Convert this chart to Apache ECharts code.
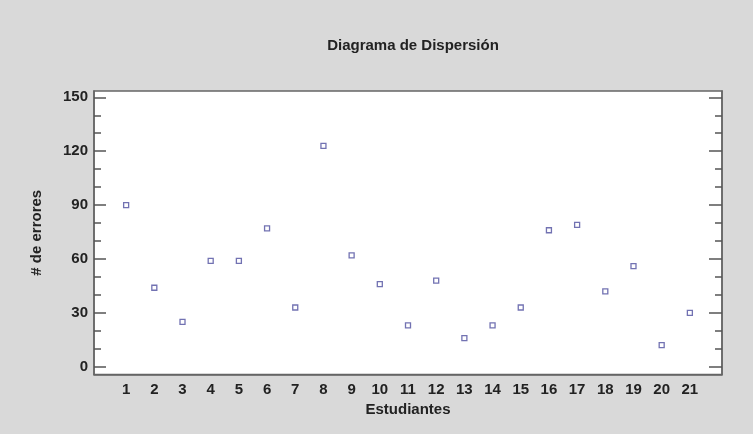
<!DOCTYPE html>
<html>
<head>
<meta charset="utf-8">
<script src="https://cdn.jsdelivr.net/npm/echarts@6/dist/echarts.min.js"></script>
<style>
html,body{margin:0;padding:0;background:#d9d9d9;}
#chart{width:753px;height:434px;}
</style>
</head>
<body>
<div id="chart"></div>
<script>
var titleText = 'Diagrama de Dispersión';
var xName = 'Estudiantes';
var yName = '# de errores';
var estudiantes = [1,2,3,4,5,6,7,8,9,10,11,12,13,14,15,16,17,18,19,20,21];
var errores = [90,44,25,59,59,77,33,123,62,46,23,48,16,23,33,76,79,42,56,12,30];
var yMajorTicks = [0,30,60,90,120,150];
var yMinorTicks = [10,20,40,50,70,80,100,110,130,140];

var data = estudiantes.map(function(e, i){ return [e, errores[i]]; });
var font = 'Liberation Sans, Arial, sans-serif';
var YMIN = -4.3, YMAX = 153.5;

function yAx(pos, labels, ticks, len, showLine){
  return {
    type: 'value', position: pos, min: YMIN, max: YMAX,
    axisLine: {show: showLine, onZero: false, lineStyle: {color: '#666', width: 1.5}},
    axisTick: {show: true, inside: true, length: len, customValues: ticks,
               lineStyle: {color: '#555', width: 1.5}},
    axisLabel: labels ? {show: true, customValues: labels, margin: 6,
               color: '#222', fontWeight: 'bold', fontSize: 15, fontFamily: font}
               : {show: false},
    splitLine: {show: false}
  };
}

var yAxes = [
  yAx('left', yMajorTicks, yMajorTicks, 12, true),
  yAx('left', null, yMinorTicks, 7, false),
  yAx('right', null, yMajorTicks, 13, true),
  yAx('right', null, yMinorTicks, 7, false)
];
yAxes[0].name = yName;
yAxes[0].nameLocation = 'middle';
yAxes[0].nameGap = 50;
yAxes[0].nameTextStyle = {color: '#222', fontWeight: 'bold', fontSize: 15, fontFamily: font};

var chart = echarts.init(document.getElementById('chart'));
chart.setOption({
  backgroundColor: '#d9d9d9',
  animation: false,
  title: {
    text: titleText, left: 408, top: 33, textAlign: 'center',
    textStyle: {color: '#222', fontWeight: 'bold', fontSize: 15, fontFamily: font}
  },
  grid: {
    left: 94, right: 31, top: 91, bottom: 59.5,
    show: true, backgroundColor: '#ffffff', borderColor: '#666', borderWidth: 1.5
  },
  xAxis: {
    type: 'value', min: -0.14, max: 22.14,
    name: xName, nameLocation: 'middle', nameGap: 27,
    nameTextStyle: {color: '#222', fontWeight: 'bold', fontSize: 15, fontFamily: font},
    axisLine: {show: true, onZero: false, lineStyle: {color: '#666', width: 1.5}},
    axisTick: {show: false},
    axisLabel: {show: true, customValues: estudiantes, margin: 8,
      color: '#222', fontWeight: 'bold', fontSize: 15, fontFamily: font},
    splitLine: {show: false}
  },
  yAxis: yAxes,
  series: [{
    type: 'scatter',
    data: data,
    symbol: 'rect',
    symbolSize: 5,
    itemStyle: {color: '#ffffff', borderColor: '#4f4f9f', borderWidth: 1.3},
    emphasis: {disabled: true}
  }]
});
</script>
</body>
</html>
